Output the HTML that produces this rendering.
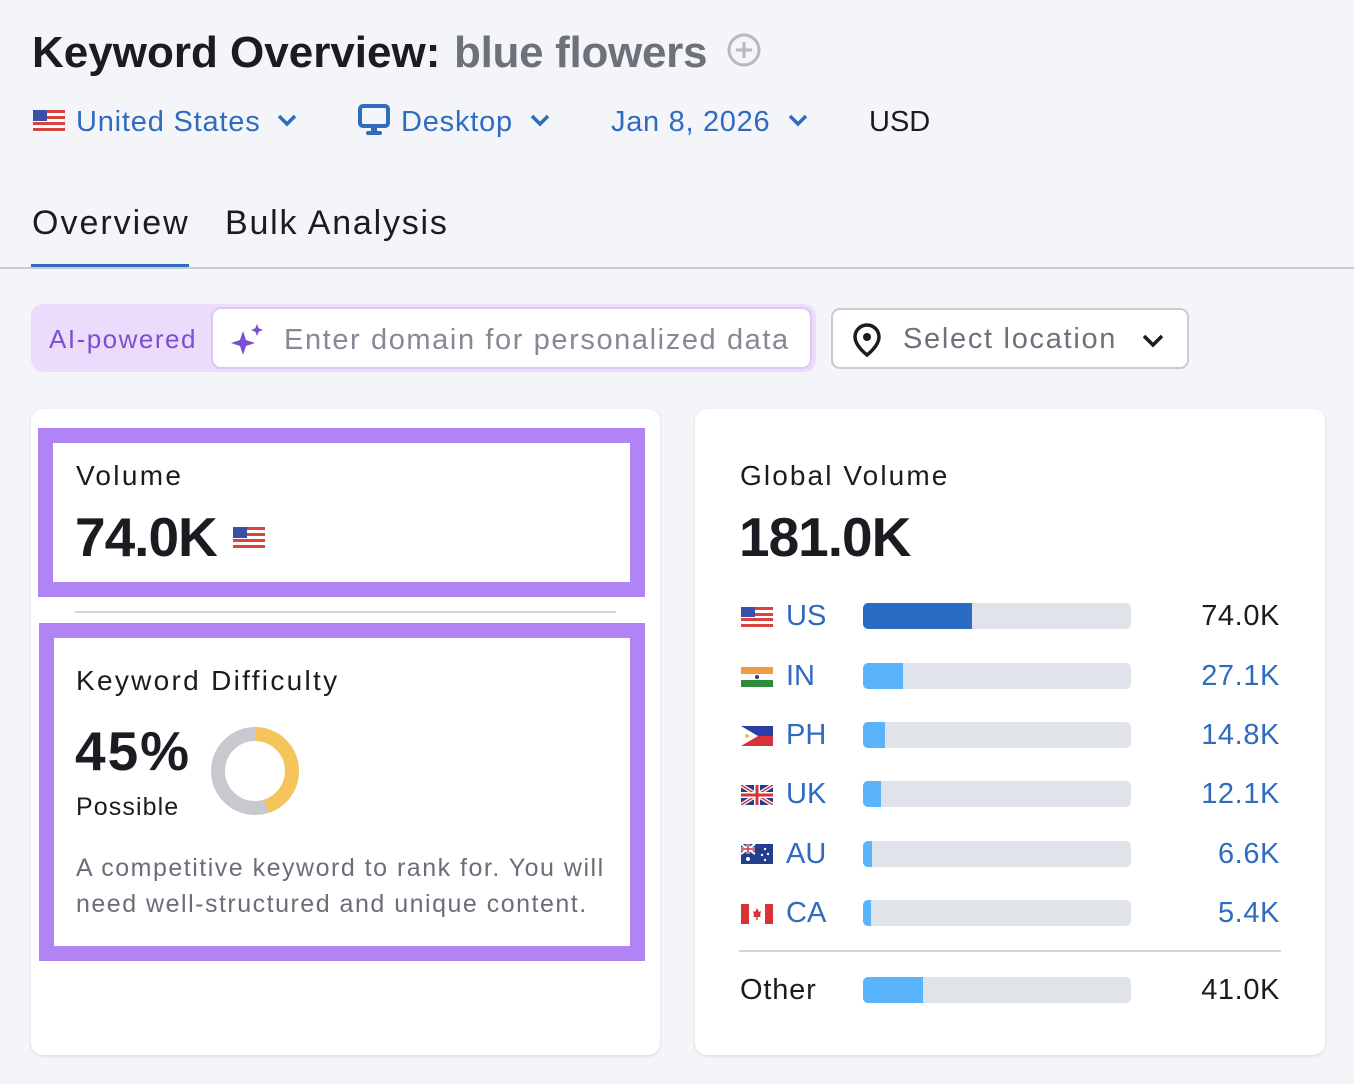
<!DOCTYPE html>
<html><head><meta charset="utf-8"><style>
*{margin:0;padding:0;box-sizing:border-box}
body{width:1354px;height:1084px;background:#f4f5f9;font-family:"Liberation Sans",sans-serif;position:relative;overflow:hidden;color:#1b1c22}
.a{position:absolute;white-space:nowrap;line-height:1}
.bar{position:absolute;left:863px;width:268px;height:26px;background:#e1e3ea;border-radius:5px;overflow:hidden}
.bar i{position:absolute;left:0;top:0;bottom:0;background:#5ab4fb}
.lab{position:absolute;left:786px;font-size:29px;color:#2f6bbf;line-height:1}
.val{position:absolute;right:74px;font-size:29px;color:#2f6bbf;line-height:1;letter-spacing:0.6px}
.flag{position:absolute;left:741px;width:32px;height:20px}
</style></head><body>
<div class="a" style="left:32px;top:31px;font-size:44px;font-weight:bold">Keyword Overview:</div>
<div class="a" style="left:454px;top:31px;font-size:44px;font-weight:bold;color:#6f717a;letter-spacing:-0.3px">blue flowers</div>
<svg class="a" style="left:726px;top:32px" width="36" height="36"><circle cx="18" cy="18" r="15" fill="none" stroke="#b7b9c0" stroke-width="3"/><path d="M18 10v16M10 18h16" stroke="#b7b9c0" stroke-width="3"/></svg>

<svg class="a" style="left:33px;top:110px" width="32" height="22"><rect width="32" height="22" fill="#fff"/><g fill="#d9423f"><rect y="0" width="32" height="3"/><rect y="6" width="32" height="3"/><rect y="12" width="32" height="3"/><rect y="18" width="32" height="3"/></g><rect width="14" height="11" fill="#3b4fa6"/></svg>
<div class="a" style="left:76px;top:108px;font-size:29px;color:#2f6bbf;letter-spacing:0.8px">United States</div>
<svg class="a" style="left:276px;top:113px" width="22" height="14"><path d="M3 3l8 8 8-8" fill="none" stroke="#2f6bbf" stroke-width="3.5"/></svg>
<svg class="a" style="left:358px;top:104px" width="32" height="32"><rect x="2" y="2" width="28" height="20" rx="3" fill="none" stroke="#2f6bbf" stroke-width="4"/><rect x="13" y="22" width="6" height="5" fill="#2f6bbf"/><rect x="8" y="27" width="16" height="4" rx="2" fill="#2f6bbf"/></svg>
<div class="a" style="left:401px;top:108px;font-size:29px;color:#2f6bbf;letter-spacing:0.8px">Desktop</div>
<svg class="a" style="left:529px;top:113px" width="22" height="14"><path d="M3 3l8 8 8-8" fill="none" stroke="#2f6bbf" stroke-width="3.5"/></svg>
<div class="a" style="left:611px;top:108px;font-size:29px;color:#2f6bbf;letter-spacing:0.7px">Jan 8, 2026</div>
<svg class="a" style="left:787px;top:113px" width="22" height="14"><path d="M3 3l8 8 8-8" fill="none" stroke="#2f6bbf" stroke-width="3.5"/></svg>
<div class="a" style="left:869px;top:108px;font-size:29px">USD</div>

<div class="a" style="left:32px;top:206px;font-size:34px;letter-spacing:2px">Overview</div>
<div class="a" style="left:225px;top:206px;font-size:34px;letter-spacing:1.8px">Bulk Analysis</div>
<div class="a" style="left:31px;top:264px;width:158px;height:4px;background:#2f6bbf"></div>
<div class="a" style="left:0;top:267px;width:1354px;height:2px;background:#c9ccd6"></div>

<div class="a" style="left:31px;top:304px;width:785px;height:68px;background:#ebdcfc;border-radius:12px"></div>
<div class="a" style="left:49px;top:326px;font-size:26px;color:#7b4fd0;letter-spacing:1.5px">AI-powered</div>
<div class="a" style="left:211px;top:307px;width:601px;height:62px;background:#fff;border:2px solid #dcc8f8;border-radius:10px"></div>
<svg class="a" style="left:230px;top:323px" width="36" height="34"><path d="M13 8l3 9 9 3-9 3-3 9-3-9-9-3 9-3z" fill="#7b4fd0"/><path d="M27 1l1.7 4.3 4.3 1.7-4.3 1.7L27 13l-1.7-4.3L21 7l4.3-1.7z" fill="#7b4fd0"/></svg>
<div class="a" style="left:284px;top:326px;font-size:29px;color:#868995;letter-spacing:1.6px">Enter domain for personalized data</div>
<div class="a" style="left:831px;top:308px;width:358px;height:61px;background:#fff;border:2px solid #c8cbd3;border-radius:9px"></div>
<svg class="a" style="left:851px;top:322px" width="32" height="36"><path d="M16 3a12 12 0 0 1 12 12c0 9-12 18-12 18S4 24 4 15A12 12 0 0 1 16 3z" fill="none" stroke="#1b1c22" stroke-width="3.5"/><circle cx="16" cy="15" r="4" fill="#1b1c22"/></svg>
<div class="a" style="left:903px;top:325px;font-size:29px;color:#6f717a;letter-spacing:1.7px">Select location</div>
<svg class="a" style="left:1141px;top:333px" width="24" height="16"><path d="M3 3l9 9 9-9" fill="none" stroke="#1b1c22" stroke-width="3.5"/></svg>

<!-- left card -->
<div class="a" style="left:31px;top:409px;width:629px;height:646px;background:#fff;border-radius:12px;box-shadow:0 1px 3px rgba(0,0,0,.12)"></div>
<div class="a" style="left:38px;top:428px;width:607px;height:169px;border:15px solid #b084f4"></div>
<div class="a" style="left:76px;top:462px;font-size:28px;letter-spacing:2.3px">Volume</div>
<div class="a" style="left:75px;top:510px;font-size:55px;font-weight:bold;letter-spacing:-1px">74.0K</div>
<svg class="a" style="left:233px;top:527px" width="32" height="22"><rect width="32" height="22" fill="#fff"/><g fill="#d9423f"><rect y="0" width="32" height="3"/><rect y="6" width="32" height="3"/><rect y="12" width="32" height="3"/><rect y="18" width="32" height="3"/></g><rect width="14" height="11" fill="#3b4fa6"/></svg>
<div class="a" style="left:75px;top:611px;width:541px;height:2px;background:#d2d4da"></div>
<div class="a" style="left:39px;top:623px;width:606px;height:338px;border:15px solid #b084f4"></div>
<div class="a" style="left:76px;top:667px;font-size:28px;letter-spacing:2.3px">Keyword Difficulty</div>
<div class="a" style="left:75px;top:724px;font-size:55px;font-weight:bold;letter-spacing:2px">45%</div>
<div class="a" style="left:76px;top:795px;font-size:25px;letter-spacing:1.1px">Possible</div>
<svg class="a" style="left:210px;top:726px" width="90" height="90"><circle cx="45" cy="45" r="37" fill="none" stroke="#c7c9cf" stroke-width="14"/><circle cx="45" cy="45" r="37" fill="none" stroke="#f5c45a" stroke-width="14" stroke-dasharray="104.6 500" transform="rotate(-90 45 45)"/></svg>
<div class="a" style="left:76px;top:856px;font-size:25px;color:#6b6e78;letter-spacing:1.5px">A competitive keyword to rank for. You will</div>
<div class="a" style="left:76px;top:892px;font-size:25px;color:#6b6e78;letter-spacing:1.5px">need well-structured and unique content.</div>

<!-- right card -->
<div class="a" style="left:695px;top:409px;width:630px;height:646px;background:#fff;border-radius:12px;box-shadow:0 1px 3px rgba(0,0,0,.12)"></div>
<div class="a" style="left:740px;top:462px;font-size:28px;letter-spacing:2.1px">Global Volume</div>
<div class="a" style="left:739px;top:510px;font-size:55px;font-weight:bold;letter-spacing:-1px">181.0K</div>

<svg class="flag" style="top:607px" viewBox="0 0 32 20"><rect width="32" height="20" fill="#fff"/><g fill="#d9423f"><rect y="0" width="32" height="3"/><rect y="6" width="32" height="3"/><rect y="11" width="32" height="3"/><rect y="17" width="32" height="3"/></g><rect width="14" height="10" fill="#3b4fa6"/></svg>
<div class="lab" style="top:602px">US</div>
<div class="bar" style="top:603px"><i style="width:109px;background:#2c6bc4"></i></div>
<div class="val" style="top:602px;color:#1b1c22">74.0K</div>

<svg class="flag" style="top:667px" viewBox="0 0 32 20"><rect width="32" height="7" fill="#f39a45"/><rect y="7" width="32" height="6" fill="#fff"/><rect y="13" width="32" height="7" fill="#2f8a3a"/><circle cx="16" cy="10" r="2" fill="#2a3f8f"/></svg>
<div class="lab" style="top:662px">IN</div>
<div class="bar" style="top:663px"><i style="width:40px"></i></div>
<div class="val" style="top:662px">27.1K</div>

<svg class="flag" style="top:726px" viewBox="0 0 32 20"><rect width="32" height="10" fill="#2a3fa6"/><rect y="10" width="32" height="10" fill="#d9333a"/><path d="M0 0L17 10 0 20z" fill="#fff"/><circle cx="6" cy="10" r="2" fill="#f5c542"/></svg>
<div class="lab" style="top:721px">PH</div>
<div class="bar" style="top:722px"><i style="width:22px"></i></div>
<div class="val" style="top:721px">14.8K</div>

<svg class="flag" style="top:785px" viewBox="0 0 32 20"><rect width="32" height="20" fill="#233d8f"/><path d="M0 0L32 20M32 0L0 20" stroke="#fff" stroke-width="4"/><path d="M0 0L32 20M32 0L0 20" stroke="#d9333a" stroke-width="1.5"/><path d="M16 0v20M0 10h32" stroke="#fff" stroke-width="6"/><path d="M16 0v20M0 10h32" stroke="#d9333a" stroke-width="3"/></svg>
<div class="lab" style="top:780px">UK</div>
<div class="bar" style="top:781px"><i style="width:18px"></i></div>
<div class="val" style="top:780px">12.1K</div>

<svg class="flag" style="top:844px" viewBox="0 0 32 20"><rect width="32" height="20" fill="#233d8f"/><path d="M0 0L14 10M14 0L0 10" stroke="#fff" stroke-width="2"/><path d="M7 0v10M0 5h14" stroke="#fff" stroke-width="3"/><path d="M7 0v10M0 5h14" stroke="#d9333a" stroke-width="1.5"/><g fill="#fff"><circle cx="7" cy="15" r="2"/><circle cx="24" cy="5" r="1.2"/><circle cx="27" cy="10" r="1.2"/><circle cx="21" cy="11" r="1.2"/><circle cx="24" cy="16" r="1.2"/></g></svg>
<div class="lab" style="top:840px">AU</div>
<div class="bar" style="top:841px"><i style="width:9px"></i></div>
<div class="val" style="top:840px">6.6K</div>

<svg class="flag" style="top:904px" viewBox="0 0 32 20"><rect width="32" height="20" fill="#fff"/><rect width="8" height="20" fill="#d9333a"/><rect x="24" width="8" height="20" fill="#d9333a"/><path d="M16 4l2 4 2-1-1 5 1 1h-8l1-1-1-5 2 1z" fill="#d9333a"/><rect x="15.3" y="12" width="1.4" height="4" fill="#d9333a"/></svg>
<div class="lab" style="top:899px">CA</div>
<div class="bar" style="top:900px"><i style="width:8px"></i></div>
<div class="val" style="top:899px">5.4K</div>

<div class="a" style="left:739px;top:950px;width:542px;height:2px;background:#d2d4da"></div>
<div class="a" style="left:740px;top:976px;font-size:29px;letter-spacing:0.8px">Other</div>
<div class="bar" style="top:977px"><i style="width:60px"></i></div>
<div class="val" style="top:976px;color:#1b1c22">41.0K</div>
</body></html>
